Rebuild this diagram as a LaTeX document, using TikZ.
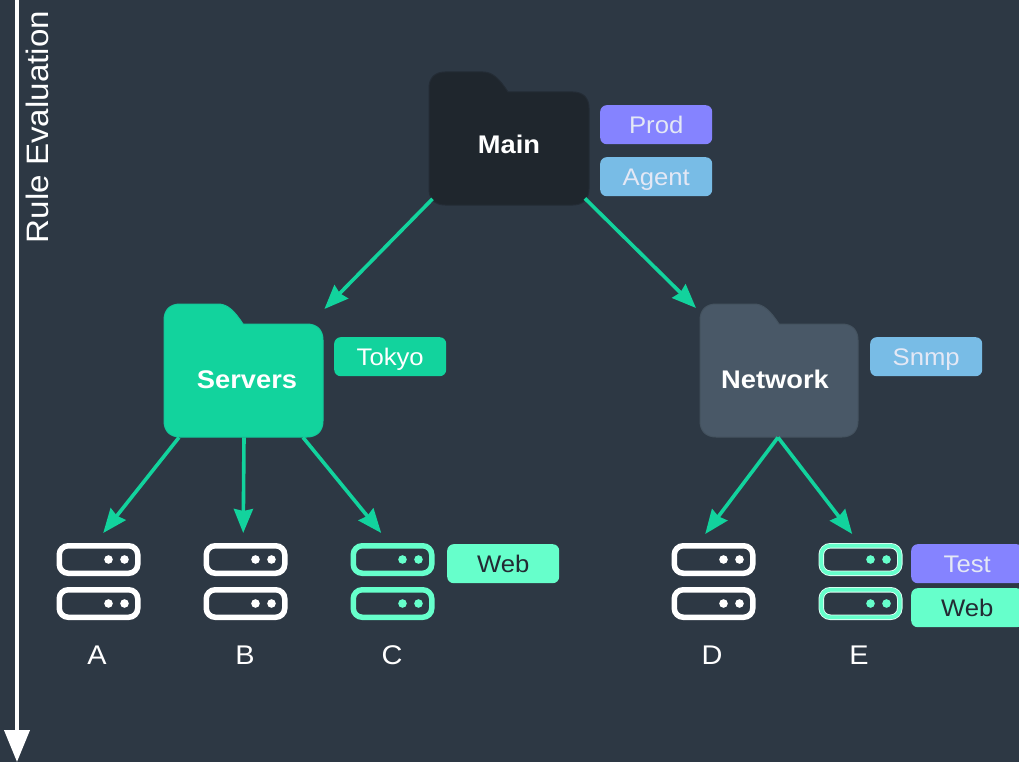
\documentclass[tikz,border=0pt]{standalone}
\usepackage{fontspec}
\setmainfont[FakeStretch=1.07]{Liberation Sans}
\usetikzlibrary{arrows.meta}
\definecolor{bgc}{HTML}{2D3844}
\definecolor{teal}{HTML}{12D39D}
\definecolor{tealedge}{HTML}{14C79A}
\definecolor{mainc}{HTML}{1F262D}
\definecolor{mainedge}{HTML}{242C35}
\definecolor{netc}{HTML}{495867}
\definecolor{netedge}{HTML}{44525F}
\definecolor{mint}{HTML}{66FFCB}
\definecolor{purple}{HTML}{8583FF}
\definecolor{sky}{HTML}{78BCE6}
\definecolor{lighttxt}{HTML}{E4E8F5}
\definecolor{darktxt}{HTML}{232A33}
\tikzset{
  tagbox/.style={minimum width=112pt,minimum height=39pt,rounded corners=6.5pt,inner sep=0pt,
    font=\fontsize{24}{24}\selectfont,text height=17.2pt,text depth=0pt,anchor=north west},
  hostlabel/.style={inner sep=0pt,font=\fontsize{27}{27}\selectfont,text=white,text height=19.4pt,text depth=0pt},
  foldertext/.style={minimum width=159pt,minimum height=133pt,inner sep=0pt,anchor=north west},
  foldername/.style={inner sep=0pt,font=\bfseries\fontsize{25.5}{26}\selectfont,text=white,text height=18.3pt,text depth=0pt},
  link/.style={draw=teal,line width=3.6pt,-{Stealth[length=24pt,width=19pt,inset=2pt]}},
  hostgroup/.style={minimum width=84pt,minimum height=77pt,inner sep=0pt,anchor=north west},
}
\newcommand{\foldershape}[5]{% x, y, fill, edge, width
  \begin{scope}[shift={(#1,#2)}]
    \path[fill=#3,draw=#4,line width=1pt,line join=round]
      (0,16) .. controls (0,6) and (6,0) .. (16,0) -- (54,0)
      .. controls (63,0) and (70,6) .. (79,20)
      -- (#5-16,20) .. controls (#5-6,20) and (#5,26) .. (#5,36)
      -- (#5,117) .. controls (#5,127) and (#5-6,133) .. (#5-16,133)
      -- (16,133) .. controls (6,133) and (0,127) .. (0,117) -- cycle;
  \end{scope}}
\newcommand{\hosticon}[3]{% x, y, colour
  \begin{scope}[shift={(#1,#2)}]
    \draw[#3,line width=5.5pt,rounded corners=9pt] (2.75,2.75) rectangle (81.25,30.25);
    \fill[#3] (52,16.5) circle (4.3pt) (68,16.5) circle (4.3pt);
    \draw[#3,line width=5.5pt,rounded corners=9pt] (2.75,46.75) rectangle (81.25,74.25);
    \fill[#3] (52,60.5) circle (4.3pt) (68,60.5) circle (4.3pt);
  \end{scope}}
\newcommand{\hosticonE}[2]{% x, y
  \begin{scope}[shift={(#1,#2)}]
    \draw[white!80!mint,line width=5.5pt,rounded corners=9pt] (2.75,2.75) rectangle (81.25,30.25);
    \draw[mint,line width=3.8pt,rounded corners=9pt] (2.75,2.75) rectangle (81.25,30.25);
    \fill[mint] (52,16.5) circle (4.3pt) (68,16.5) circle (4.3pt);
    \draw[white!80!mint,line width=5.5pt,rounded corners=9pt] (2.75,46.75) rectangle (81.25,74.25);
    \draw[mint,line width=3.8pt,rounded corners=9pt] (2.75,46.75) rectangle (81.25,74.25);
    \fill[mint] (52,60.5) circle (4.3pt) (68,60.5) circle (4.3pt);
  \end{scope}}
\begin{document}
\begin{tikzpicture}[x=1pt,y=-1pt]
\useasboundingbox (0,0) rectangle (1019,762);
\fill[bgc] (0,0) rectangle (1019,762);

% rule arrow
\coordinate (ruletop) at (17,0);
\coordinate (ruleend) at (17,762);
\draw[white,line width=4pt,-{Triangle[length=32pt,width=25pt]}] (ruletop) -- (ruleend);
\node[rotate=90,inner sep=0pt,text=white,font=\fontsize{31}{31}\selectfont,text height=22pt,text depth=0pt] (rule) at (37,127) {Rule Evaluation};

% folders
\foldershape{429}{72}{mainc}{mainedge}{160}
\foldershape{164}{304}{teal}{tealedge}{159}
\foldershape{700}{304}{netc}{netedge}{158}
\node[foldertext,minimum width=160pt] (main) at (429,72) {};
\node[foldertext] (servers) at (164,304) {};
\node[foldertext,minimum width=158pt] (network) at (700,304) {};
\node[foldername] (mainname) at (509,144) {Main};
\node[foldername] (serversname) at (247,379) {Servers};
\node[foldername] (networkname) at (775,379) {Network};

% tags
\node[tagbox,fill=purple,text=lighttxt] (prod) at (600,105) {Prod};
\node[tagbox,fill=sky,text=lighttxt] (agent) at (600,157) {Agent};
\node[tagbox,fill=teal,text=white] (tokyo) at (334,337) {Tokyo};
\node[tagbox,fill=sky,text=lighttxt] (snmp) at (870,337) {Snmp};
\node[tagbox,fill=mint,text=darktxt] (webc) at (447,544) {Web};
\node[tagbox,fill=purple,text=lighttxt] (test) at (911,544) {Test};
\node[tagbox,fill=mint,text=darktxt] (webe) at (911,588) {Web};

% hosts
\node[hostgroup] (a) at (56.5,543) {};
\node[hostgroup] (b) at (203.5,543) {};
\node[hostgroup] (c) at (350.5,543) {};
\node[hostgroup] (d) at (671.5,543) {};
\node[hostgroup] (e) at (818.5,543) {};
\hosticon{56.5}{543}{white}
\hosticon{203.5}{543}{white}
\hosticon{350.5}{543}{mint}
\hosticon{671.5}{543}{white}
\hosticonE{818.5}{543}
\node[hostlabel] (la) at (97,655) {A};
\node[hostlabel] (lb) at (245,655) {B};
\node[hostlabel] (lc) at (392,655) {C};
\node[hostlabel] (ld) at (712,655) {D};
\node[hostlabel] (le) at (859,655) {E};

% connectors
\draw[link] ([shift={(3.5,-6.5)}]main.south west) -- ([shift={(1,5)}]servers.north east);
\draw[link] ([shift={(-4.5,-7)}]main.south east) -- ([shift={(-4,4)}]network.north west);
\draw[link] ([shift={(15,0)}]servers.south west) -- ([shift={(4.5,-10)}]a.north);
\draw[link] ([shift={(80,0)}]servers.south west) -- ([shift={(-2.5,-10)}]b.north);
\draw[link] ([shift={(139,0)}]servers.south west) -- ([shift={(-11.5,-10)}]c.north);
\draw[link] ([shift={(78,0)}]network.south west) -- ([shift={(-8.5,-9)}]d.north);
\draw[link] ([shift={(78,0)}]network.south west) -- ([shift={(-8.5,-9)}]e.north);
\end{tikzpicture}
\end{document}
